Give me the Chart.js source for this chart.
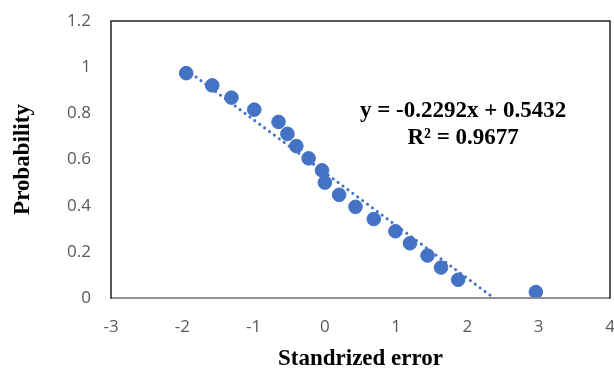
<!DOCTYPE html>
<html>
<head>
<meta charset="utf-8">
<script src="https://cdn.jsdelivr.net/npm/chart.js@4"></script>
<style>
  html, body { margin: 0; padding: 0; background: #fff; }
  #wrap { width: 614px; height: 369px; }
</style>
</head>
<body>
<div id="wrap"><canvas id="probChart"></canvas></div>
<script>
// standardized error (x) and probability (y)
const errors = [-1.945, -1.58, -1.31, -0.99, -0.65, -0.525, -0.40, -0.228, -0.04, 0.0,
                0.20, 0.43, 0.686, 0.99, 1.194, 1.44, 1.63, 1.87, 2.96];
const probs = [0.974, 0.921, 0.868, 0.816, 0.763, 0.711, 0.658, 0.605, 0.553, 0.500,
               0.447, 0.395, 0.342, 0.289, 0.237, 0.184, 0.132, 0.079, 0.026];

// linear trend shown on the chart
const slope = -0.2292;
const intercept = 0.5432;
const equationText = 'y = -0.2292x + 0.5432';
const r2Text = 'R² = 0.9677';

const xTicks = [-3, -2, -1, 0, 1, 2, 3, 4];
const yTicks = [0, 0.2, 0.4, 0.6, 0.8, 1, 1.2];

const blue = '#4472C4';

// trendline from first point down to where it meets y = 0
const xStart = Math.min(...errors);
const xEnd = -intercept / slope;
const trendPoints = [
    { x: xStart, y: slope * xStart + intercept },
    { x: xEnd, y: 0 }
];

const boxPlugin = {
    id: 'plotBox',
    afterDatasetsDraw(chart) {
        const { ctx, chartArea } = chart;
        ctx.save();
        ctx.strokeStyle = '#000';
        ctx.lineWidth = 1.3;
        ctx.strokeRect(chartArea.left, chartArea.top, chartArea.right - chartArea.left, chartArea.bottom - chartArea.top);
        ctx.strokeStyle = '#a6a6a6';
        ctx.beginPath();
        ctx.moveTo(chartArea.left + 1, chartArea.bottom);
        ctx.lineTo(chartArea.right - 1, chartArea.bottom);
        ctx.stroke();

        // trend equation
        const xs = chart.scales.x, ys = chart.scales.y;
        ctx.fillStyle = '#000';
        ctx.font = 'bold 23px "Liberation Serif", "Times New Roman", serif';
        ctx.textAlign = 'center';
        ctx.textBaseline = 'middle';
        const cx = xs.getPixelForValue(1.94);
        ctx.fillText(equationText, cx, ys.getPixelForValue(0.81));
        ctx.fillText(r2Text, cx, ys.getPixelForValue(0.695));
        ctx.restore();
    }
};

new Chart(document.getElementById('probChart'), {
    type: 'scatter',
    data: {
        datasets: [
            {
                label: 'Probability',
                data: errors.map((x, i) => ({ x, y: probs[i] })),
                backgroundColor: blue,
                borderColor: blue,
                pointRadius: 6.8,
                pointHoverRadius: 6.8,
                order: 1
            },
            {
                label: 'Linear trend',
                type: 'line',
                data: trendPoints,
                borderColor: blue,
                borderWidth: 3,
                borderDash: [0.1, 6],
                borderCapStyle: 'round',
                pointRadius: 0,
                fill: false,
                order: 2
            }
        ]
    },
    options: {
        responsive: true,
        maintainAspectRatio: false,
        animation: false,
        layout: { autoPadding: false, padding: { top: 21, right: 4, left: 0, bottom: 0 } },
        plugins: {
            legend: { display: false },
            tooltip: { enabled: false }
        },
        scales: {
            x: {
                type: 'linear',
                min: -3,
                max: 4,
                afterBuildTicks(scale) { scale.ticks = xTicks.map(v => ({ value: v })); },
                afterFit(scale) {
                    scale.height = 71;
                    scale.paddingLeft = 0;
                    scale.paddingRight = 0;
                },
                grid: { display: false, drawTicks: false },
                border: { display: false },
                ticks: {
                    color: '#595959',
                    padding: 19,
                    callback: v => String(v),
                    font: { family: '"Open Sans", "Noto Sans", sans-serif', size: 17 }
                },
                title: {
                    display: true,
                    text: 'Standrized error',
                    color: '#000',
                    padding: { top: 0, bottom: -4 },
                    font: { family: '"Liberation Serif", "Times New Roman", serif', size: 23, weight: 'bold' }
                }
            },
            y: {
                min: 0,
                max: 1.2,
                afterBuildTicks(scale) { scale.ticks = yTicks.map(v => ({ value: v })); },
                afterFit(scale) {
                    scale.width = 111;
                    scale.paddingTop = 0;
                    scale.paddingBottom = 0;
                },
                grid: { display: false, drawTicks: false },
                border: { display: false },
                ticks: {
                    color: '#595959',
                    padding: 20,
                    callback: v => String(v),
                    font: { family: '"Open Sans", "Noto Sans", sans-serif', size: 17 }
                },
                title: {
                    display: true,
                    text: 'Probability',
                    color: '#000',
                    padding: { top: 9, bottom: 0 },
                    font: { family: '"Liberation Serif", "Times New Roman", serif', size: 23, weight: 'bold' }
                }
            }
        }
    },
    plugins: [boxPlugin]
});
</script>
</body>
</html>
